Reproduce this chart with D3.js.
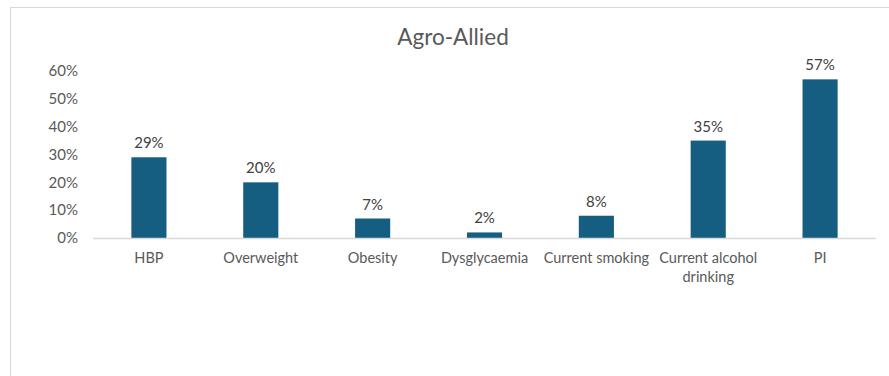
<!DOCTYPE html>
<html>
<head>
<meta charset="utf-8">
<script src="https://cdn.jsdelivr.net/npm/d3@7"></script>
<style>
  body { margin: 0; background: #fff; }
  text { font-family: Lato, "Open Sans", sans-serif; }
</style>
</head>
<body>
<script>
// Chart data
var categories = ["HBP", "Overweight", "Obesity", "Dysglycaemia", "Current smoking", "Current alcohol drinking", "PI"];
var values = [0.29, 0.20, 0.07, 0.02, 0.08, 0.35, 0.57];
var yTicks = [0, 0.1, 0.2, 0.3, 0.4, 0.5, 0.6];
var title = "Agro-Allied";

var width = 889, height = 376;
var margin = {top: 71, right: 13, bottom: 138, left: 93};

var svg = d3.select("body")
            .append("svg")
            .attr("width", width)
            .attr("height", height);

// chart border
svg.append("rect")
   .attr("x", 10.5)
   .attr("y", 7.5)
   .attr("width", 900)
   .attr("height", 400)
   .attr("fill", "none")
   .attr("stroke", "#d9d9d9");

svg.append("text")
   .attr("x", 453)
   .attr("y", 45)
   .attr("text-anchor", "middle")
   .attr("font-size", 22.5)
   .attr("fill", "#595959")
   .text(title);

var xScale = d3.scaleBand()
               .domain(categories)
               .range([margin.left, width - margin.right])
               .paddingInner(0.686)
               .paddingOuter(0.343);

var yScale = d3.scaleLinear()
               .domain([0, 0.6])
               .range([height - margin.bottom, margin.top]);

// y axis labels (no line, no ticks)
var yAxis = svg.append("g")
               .attr("transform", "translate(" + (margin.left - 15) + ",0)")
               .call(d3.axisLeft(yScale).tickValues(yTicks).tickFormat(d3.format(".0%")).tickSize(0));
yAxis.select(".domain").remove();
yAxis.selectAll("text")
     .attr("font-size", 15)
     .attr("fill", "#595959")
     .attr("x", 0);

// bars
svg.selectAll("rect.bar")
   .data(values)
   .enter()
   .append("rect")
   .attr("class", "bar")
   .attr("x", function(d, i) {return xScale(categories[i]);})
   .attr("y", function(d) {return yScale(d);})
   .attr("width", xScale.bandwidth())
   .attr("height", function(d) {return yScale(0) - yScale(d);})
   .attr("fill", "#165e81");

// baseline
svg.append("line")
   .attr("x1", margin.left)
   .attr("x2", width - margin.right)
   .attr("y1", yScale(0) + 0.5)
   .attr("y2", yScale(0) + 0.5)
   .attr("stroke", "#d9d9d9")
   .attr("stroke-width", 1.5);

// data labels
svg.selectAll("text.label")
   .data(values)
   .enter()
   .append("text")
   .attr("class", "label")
   .attr("x", function(d, i) {return xScale(categories[i]) + xScale.bandwidth() / 2;})
   .attr("y", function(d) {return yScale(d) - 9;})
   .attr("text-anchor", "middle")
   .attr("font-size", 15)
   .attr("fill", "#404040")
   .text(function(d) {return d3.format(".0%")(d);});

// category labels, long ones wrap to two lines
var lines = {"Current alcohol drinking": ["Current alcohol", "drinking"]};
categories.forEach(function(c) {
    var t = svg.append("text")
               .attr("x", xScale(c) + xScale.bandwidth() / 2)
               .attr("y", yScale(0) + 25)
               .attr("text-anchor", "middle")
               .attr("font-size", 14.5)
               .attr("fill", "#595959");
    (lines[c] || [c]).forEach(function(s, k) {
        t.append("tspan")
         .attr("x", xScale(c) + xScale.bandwidth() / 2)
         .attr("dy", k ? 19 : 0)
         .text(s);
    });
});
</script>
</body>
</html>
